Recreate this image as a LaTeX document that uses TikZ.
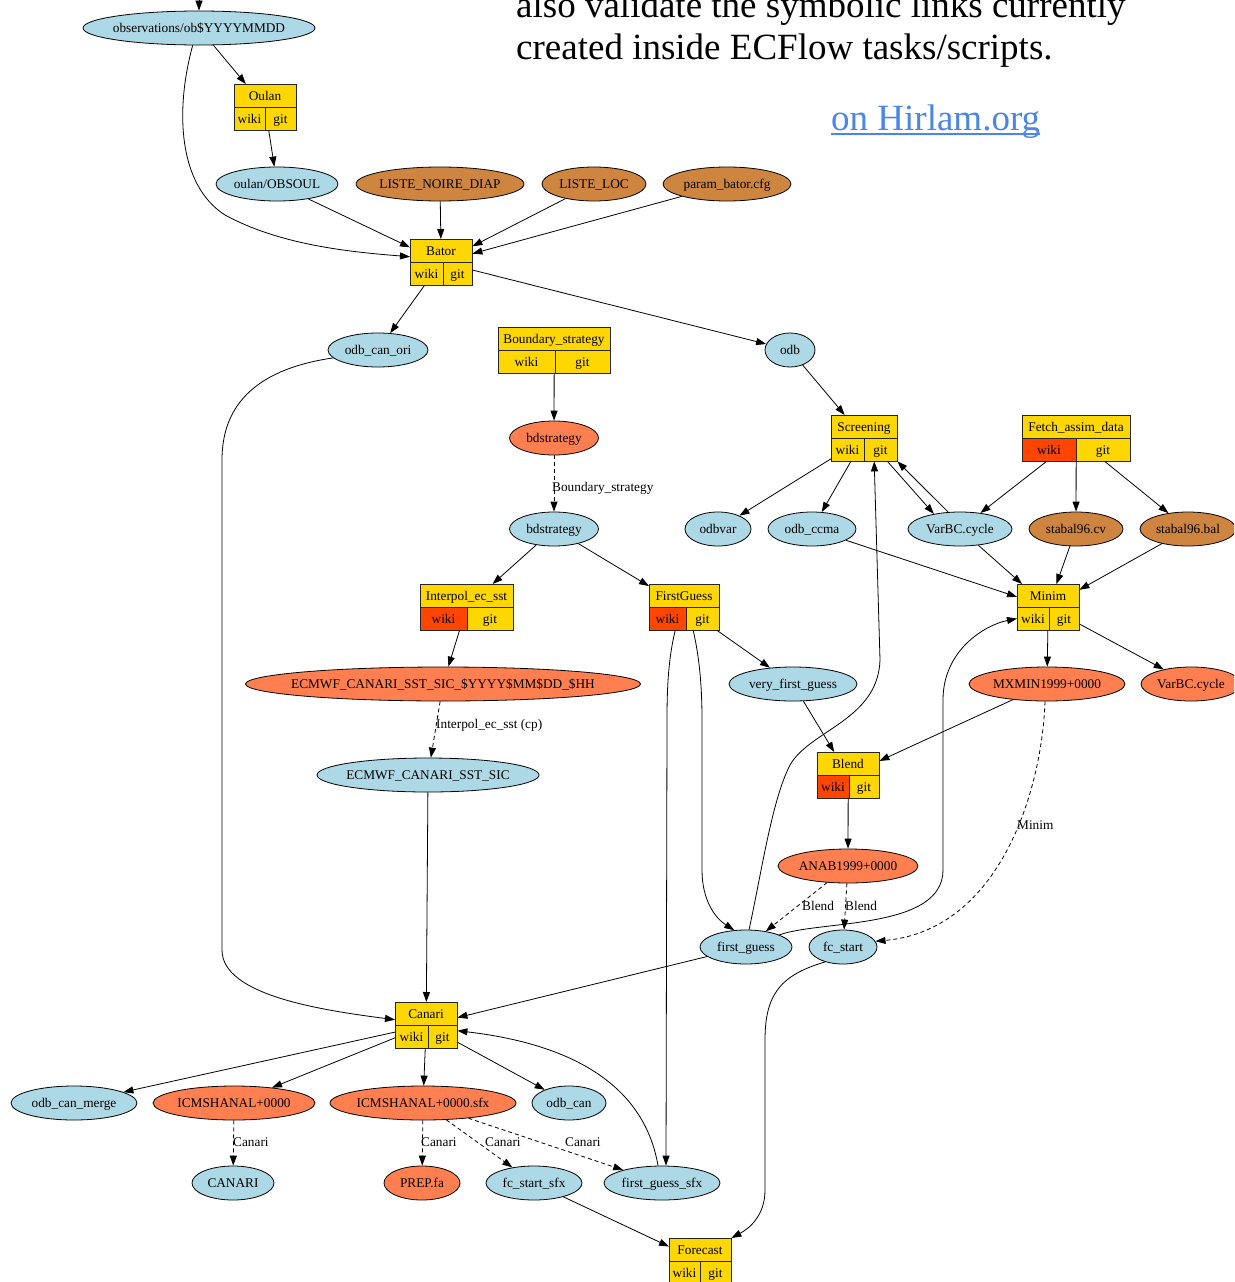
\documentclass[tikz,border=0pt]{standalone}
\usepackage{fontspec}
\setmainfont{Liberation Serif}
\usetikzlibrary{shapes.geometric,arrows.meta}
\definecolor{lb}{HTML}{ADD8E6}
\definecolor{crl}{HTML}{FF7F50}
\definecolor{pru}{HTML}{CD853F}
\definecolor{gld}{HTML}{FFD700}
\definecolor{ored}{HTML}{FF4500}
\definecolor{linkblue}{HTML}{4A86E8}
\newcommand\zb[1]{\makebox[0pt]{#1}}
\newcommand\nfont{\fontsize{13.3}{15}\selectfont}
\newcommand\bigfont{\fontsize{37}{42}\selectfont}
\newcommand\recbox[7]{%
  \node[recn, minimum width=#4, minimum height=46, anchor=north west] (#1) at (#2,#3) {};
  \fill[#7] (#2,#3+23) rectangle (#2+#5,#3+46);
  \draw[recline] (#2,#3) rectangle (#2+#4,#3+46);
  \draw[recline] (#2,#3+23) -- (#2+#4,#3+23);
  \draw[recline] (#2+#5,#3+23) -- (#2+#5,#3+46);
  \node[rtxt] (#1-t) at (#2+#4/2,#3+16) {#6};
  \node[rtxt] (#1-w) at (#2+#5/2,#3+39) {wiki};
  \node[rtxt] (#1-g) at (#2+#5/2+#4/2,#3+39) {git};
}
\begin{document}
\begin{tikzpicture}[x=1pt,y=-1pt,
  ell/.style={ellipse, draw=black, line width=0.8pt, inner sep=0pt, minimum height=34pt, text height=12pt, text depth=3pt, font=\nfont},
  eb/.style={ell, fill=lb}, ec/.style={ell, fill=crl}, ep/.style={ell, fill=pru},
  recn/.style={rectangle, fill=gld, inner sep=0pt},
  recline/.style={draw=black!85, line width=0.8pt},
  rtxt/.style={inner sep=0pt, anchor=base, font=\nfont},
  elab/.style={inner sep=0pt, anchor=west, font=\nfont},
  arr/.style={line width=0.8pt, -{Triangle[length=10pt,width=7pt]}},
  dsh/.style={arr, dash pattern=on 4pt off 3pt}]
\useasboundingbox (0,0) rectangle (1234,1282);
\clip (0,0) rectangle (1234,1282);
\fill[white] (0,0) rectangle (1234,1282);

% heading text
\node[anchor=base west, inner sep=0pt, font=\bigfont] (l1) at (516,17) {also validate the symbolic links currently};
\node[anchor=base west, inner sep=0pt, font=\bigfont] (l2) at (516,59) {created inside ECFlow tasks/scripts.};
\node[anchor=base west, inner sep=0pt, font=\bigfont, text=linkblue] (link) at (831,130) {on Hirlam.org};
\draw[linkblue, line width=2.5pt] ([yshift=-4pt]link.base west) -- ([yshift=-4pt]link.base east);

% ellipses
\node[eb, minimum width=232] (obs) at (199,28) {\zb{observations/ob\$YYYYMMDD}};
\node[eb, minimum width=122] (obsoul) at (277,184) {\zb{oulan/OBSOUL}};
\node[ep, minimum width=168] (liste) at (440,184) {\zb{LISTE\_NOIRE\_DIAP}};
\node[ep, minimum width=104] (listeloc) at (594,184) {\zb{LISTE\_LOC}};
\node[ep, minimum width=128] (param) at (727,184) {\zb{param\_bator.cfg}};
\node[eb, minimum width=100] (odbcanori) at (378,350) {\zb{odb\_can\_ori}};
\node[eb, minimum width=50] (odb) at (790,350) {\zb{odb}};
\node[ec, minimum width=89] (bdsC) at (554,438) {\zb{bdstrategy}};
\node[eb, minimum width=89] (bdsB) at (554,529) {\zb{bdstrategy}};
\node[eb, minimum width=66] (odbvar) at (718,529) {\zb{odbvar}};
\node[eb, minimum width=88] (odbccma) at (812,529) {\zb{odb\_ccma}};
\node[eb, minimum width=104] (varbcB) at (960,529) {\zb{VarBC.cycle}};
\node[ep, minimum width=94] (stabcv) at (1076,529) {\zb{stabal96.cv}};
\node[ep, minimum width=96] (stabbal) at (1188,529) {\zb{stabal96.bal}};
\node[ec, minimum width=395] (ecmwfhh) at (443,684) {\zb{ECMWF\_CANARI\_SST\_SIC\_\$YYYY\$MM\$DD\_\$HH}};
\node[eb, minimum width=128] (vfg) at (793,684) {\zb{very\_first\_guess}};
\node[ec, minimum width=156] (mxmin) at (1047,684) {\zb{MXMIN1999+0000}};
\node[ec, minimum width=100] (varbcC) at (1191,684) {\zb{VarBC.cycle}};
\node[eb, minimum width=222] (ecsst) at (428,775) {\zb{ECMWF\_CANARI\_SST\_SIC}};
\node[ec, minimum width=140] (anab) at (848,866) {\zb{ANAB1999+0000}};
\node[eb, minimum width=92] (fg) at (746,947) {\zb{first\_guess}};
\node[eb, minimum width=68] (fcstart) at (843,947) {\zb{fc\_start}};
\node[eb, minimum width=126] (odbcanmerge) at (74,1103) {\zb{odb\_can\_merge}};
\node[ec, minimum width=162] (icm) at (234,1103) {\zb{ICMSHANAL+0000}};
\node[ec, minimum width=186] (icmsfx) at (423,1103) {\zb{ICMSHANAL+0000.sfx}};
\node[eb, minimum width=74] (odbcan) at (569,1103) {\zb{odb\_can}};
\node[eb, minimum width=82] (canariL) at (233,1183) {\zb{CANARI}};
\node[ec, minimum width=76] (prep) at (422,1183) {\zb{PREP.fa}};
\node[eb, minimum width=96] (fcstartsfx) at (534,1183) {\zb{fc\_start\_sfx}};
\node[eb, minimum width=116] (fgsfx) at (662,1183) {\zb{first\_guess\_sfx}};

% record boxes
\recbox{oulan}{234}{84}{62}{31}{Oulan}{gld}
\recbox{bator}{410}{239}{62}{33}{Bator}{gld}
\recbox{bstrat}{498}{327}{112}{57}{Boundary\_strategy}{gld}
\recbox{screening}{831}{415}{66}{33}{Screening}{gld}
\recbox{fetch}{1022}{415}{108}{54}{Fetch\_assim\_data}{ored}
\recbox{interpol}{420}{584}{93}{47}{Interpol\_ec\_sst}{ored}
\recbox{firstguess}{649}{584}{70}{37}{FirstGuess}{ored}
\recbox{minim}{1017}{584}{62}{32}{Minim}{gld}
\recbox{blend}{817}{752}{62}{32}{Blend}{ored}
\recbox{canari}{395}{1002}{62}{33}{Canari}{gld}
\recbox{forecast}{669}{1238}{62}{31}{Forecast}{gld}

% edges
\coordinate (topin) at (199,-5);
\draw[arr] (topin) -- (obs);
\draw[arr] (obs) -- (oulan);
\draw[arr] (obs.250) .. controls (175,110) and (178,185) .. (225,215) .. controls (280,245) and (350,252) .. (bator.170);
\draw[arr] (oulan) -- (obsoul);
\draw[arr] (obsoul) -- (bator);
\draw[arr] (liste) -- (bator);
\draw[arr] (listeloc) -- (bator);
\draw[arr] (param) -- (bator);
\draw[arr] (bator) -- (odbcanori);
\draw[arr] (bator) -- (odb);
\draw[arr] (odbcanori.190) .. controls (250,370) and (222,410) .. (222,460) -- (222,950) .. controls (222,995) and (320,1010) .. (canari.170);
\draw[arr] (bstrat) -- (bdsC);
\draw[dsh] (bdsC) -- (bdsB);
\node[elab] (lab1) at (552,488) {Boundary\_strategy};
\draw[arr] (bdsB) -- (interpol);
\draw[arr] (bdsB) -- (firstguess);
\draw[arr] (odb) -- (screening);
\draw[arr] (screening) -- (odbvar);
\draw[arr] (screening) -- (odbccma);
\draw[arr] ([xshift=-10pt]screening.south east) -- (varbcB.150);
\draw[arr] (varbcB.125) -- (screening.south east);
\draw[arr] (fetch) -- (varbcB);
\draw[arr] (fetch) -- (stabcv);
\draw[arr] (fetch) -- (stabbal);
\draw[arr] (odbccma) -- (minim);
\draw[arr] (varbcB) -- (minim);
\draw[arr] (stabcv) -- (minim);
\draw[arr] (stabbal) -- (minim);
\draw[arr] (interpol) -- (ecmwfhh);
\draw[dsh] (ecmwfhh) -- (ecsst);
\node[elab] (lab2) at (436,725) {Interpol\_ec\_sst (cp)};
\draw[arr] (ecsst) -- (canari);
\draw[arr] (firstguess) -- (vfg);
\draw[arr] ([xshift=9pt]firstguess.south) .. controls (700,660) and (702,690) .. (702,720) -- (702,870) .. controls (702,900) and (715,918) .. (fg.125);
\draw[arr] ([xshift=-9pt]firstguess.south) .. controls (668,660) and (667,690) .. (667,720) -- ([xshift=4pt]fgsfx.north);
\draw[arr] (minim) -- (mxmin);
\draw[arr] (minim) -- (varbcC);
\draw[arr] (vfg) -- (blend);
\draw[arr] (mxmin) -- (blend);
\draw[arr] (blend) -- (anab);
\draw[dsh] ([xshift=-2pt]mxmin.south) .. controls (1042,790) and (1000,930) .. (fcstart.10);
\node[elab] (lab3) at (1017,825) {Minim};
\draw[dsh] (anab) -- (fg);
\draw[dsh] (anab) -- (fcstart);
\node[elab] (lab4) at (802,906) {Blend};
\node[elab] (lab5) at (845,906) {Blend};
\draw[arr] (fg.80) .. controls (762,870) and (772,800) .. (790,765) .. controls (810,730) and (878,720) .. (880,660) -- ([xshift=10pt]screening.south);
\draw[arr] (fg.20) .. controls (820,920) and (943,930) .. (943,870) -- (943,700) .. controls (943,650) and (985,625) .. (minim.200);
\draw[arr] (fg) -- (canari);
\draw[arr] (fcstart.220) .. controls (780,975) and (765,995) .. (765,1040) -- (765,1190) .. controls (765,1215) and (750,1228) .. (forecast.north east);
\draw[arr] (canari) -- (odbcanmerge);
\draw[arr] (canari) -- (icm);
\draw[arr] (canari) -- (icmsfx);
\draw[arr] (canari) -- (odbcan);
\draw[arr] ([xshift=-4pt]fgsfx.north) .. controls (645,1090) and (580,1045) .. (canari.-10);
\draw[dsh] (icm) -- (canariL);
\draw[dsh] (icmsfx) -- (prep);
\draw[dsh] (icmsfx) -- (fcstartsfx);
\draw[dsh] (icmsfx) -- (fgsfx);
\node[elab] (lab6) at (233,1142) {Canari};
\node[elab] (lab7) at (421,1142) {Canari};
\node[elab] (lab8) at (485,1142) {Canari};
\node[elab] (lab9) at (565,1142) {Canari};
\draw[arr] (fcstartsfx) -- (forecast);
\end{tikzpicture}
\end{document}
